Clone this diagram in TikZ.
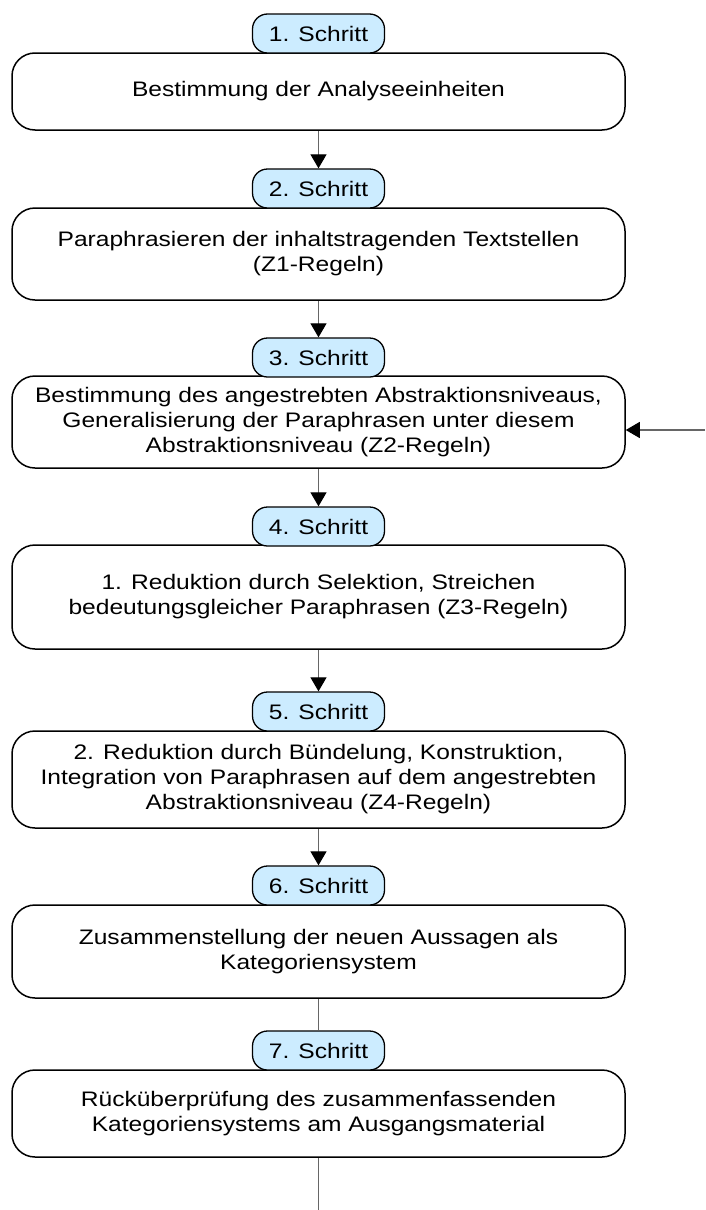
\documentclass[tikz,border=0pt]{standalone}
\usepackage{fontspec}
\setmainfont{Liberation Sans}[FakeStretch=1.17]
\usetikzlibrary{arrows.meta}
\definecolor{tagblue}{RGB}{204,236,255}

\begin{document}
\begin{tikzpicture}[x=1pt,y=-1pt,
	every node/.style={font=\fontsize{21}{25}\selectfont, align=center},
	stepbox/.style={draw, line width=1.5pt, rounded corners=23pt, minimum width=613pt, inner sep=0pt},
	steptag/.style={draw, fill=tagblue, line width=1.3pt, rounded corners=15pt, minimum width=132pt, minimum height=39pt, inner sep=0pt},
	link/.style={black!60, line width=1.1pt},
	flow/.style={link, -{Triangle[width=16pt,length=14pt,color=black]}}]
	\useasboundingbox (0,0) rectangle (705,1210);
	% Schritte
	\node[stepbox, minimum height=77pt] (b1) at (318.5,91.5) {Bestimmung der Analyseeinheiten};
	\node[steptag] (t1) at (318.5,33.5) {1. Schritt};
	\node[stepbox, minimum height=92pt] (b2) at (318.5,254) {Paraphrasieren der inhaltstragenden Textstellen\\(Z1-Regeln)};
	\node[steptag] (t2) at (318.5,188.5) {2. Schritt};
	\node[stepbox, minimum height=92pt] (b3) at (318.5,422) {Bestimmung des angestrebten Abstraktionsniveaus,\\Generalisierung der Paraphrasen unter diesem\\Abstraktionsniveau (Z2-Regeln)};
	\node[steptag] (t3) at (318.5,357.5) {3. Schritt};
	\node[stepbox, minimum height=104pt] (b4) at (318.5,597) {1. Reduktion durch Selektion, Streichen\\bedeutungsgleicher Paraphrasen (Z3-Regeln)};
	\node[steptag] (t4) at (318.5,526.5) {4. Schritt};
	\node[stepbox, minimum height=97pt] (b5) at (318.5,779.5) {2. Reduktion durch Bündelung, Konstruktion,\\Integration von Paraphrasen auf dem angestrebten\\Abstraktionsniveau (Z4-Regeln)};
	\node[steptag] (t5) at (318.5,711.5) {5. Schritt};
	\node[stepbox, minimum height=93pt] (b6) at (318.5,951.5) {Zusammenstellung der neuen Aussagen als\\Kategoriensystem};
	\node[steptag] (t6) at (318.5,885.5) {6. Schritt};
	\node[stepbox, minimum height=87pt] (b7) at (318.5,1113.5) {Rücküberprüfung des zusammenfassenden\\Kategoriensystems am Ausgangsmaterial};
	\node[steptag] (t7) at (318.5,1050.5) {7. Schritt};
	% Verbindungen
	\draw[flow] (b1) -- (t2);
	\draw[flow] (b2) -- (t3);
	\draw[flow] (b3) -- (t4);
	\draw[flow] (b4) -- (t5);
	\draw[flow] (b5) -- (t6);
	\draw[link] (b6) -- (t7);
	\coordinate (feed) at (705,430);
	\draw[flow] (feed) -- (feed -| b3.east);
	\coordinate (out) at (318.5,1210);
	\draw[link] (b7) -- (out);
\end{tikzpicture}
\end{document}
